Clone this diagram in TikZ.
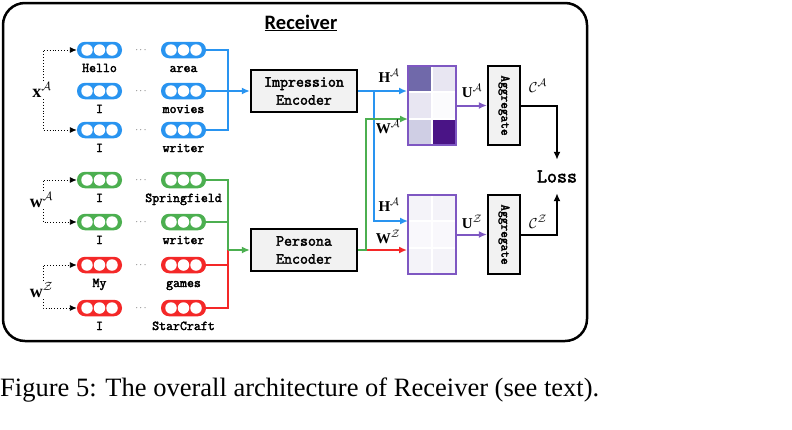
\documentclass[tikz,border=0pt]{standalone}
\usepackage{fontspec}
\setmainfont{Liberation Serif}
\newfontfamily\carl{Carlito}
\newfontfamily\monob{Latin Modern Mono}[FakeBold=2.5]
\usetikzlibrary{arrows.meta}
\definecolor{cblue}{RGB}{41,148,240}
\definecolor{cgreen}{RGB}{76,175,80}
\definecolor{cred}{RGB}{244,40,40}
\definecolor{boxgray}{RGB}{242,242,242}
\definecolor{mpurple}{RGB}{126,87,194}
\definecolor{mA}{RGB}{112,105,170}
\definecolor{mB}{RGB}{232,230,242}
\definecolor{mC}{RGB}{251,251,253}
\definecolor{mD}{RGB}{207,206,228}
\definecolor{mE}{RGB}{74,20,134}
\definecolor{mF}{RGB}{244,243,249}
\definecolor{mG}{RGB}{249,248,252}
\newcommand\mkcaps[4]{%
  \node[capsule, fill=#4] (#1) at (#2,#3) {};
  \node[hole] (#1a) at ([xshift=-12.5]#1.center) {};
  \node[hole] (#1b) at (#1.center) {};
  \node[hole] (#1c) at ([xshift=12.5]#1.center) {};
}
\tikzset{
  frame/.style={draw, line width=2.5, rounded corners=22},
  capsule/.style={rounded corners=8, minimum width=45, minimum height=16.5, inner sep=0},
  hole/.style={circle, fill=white, minimum size=11.5, inner sep=0},
  word/.style={font=\monob\fontsize{13.5}{15}\selectfont, inner sep=0, anchor=base},
  dotsl/.style={font=\fontsize{9}{10}\selectfont, inner sep=0},
  enc/.style={draw, line width=2.2, fill=boxgray, minimum width=106, minimum height=42, align=center, inner sep=0, font=\monob\fontsize{15.5}{18}\selectfont},
  agg/.style={draw, line width=2.2, fill=boxgray, minimum width=32, minimum height=79, inner sep=0},
  aggt/.style={rotate=-90, font=\monob\fontsize{13}{14}\selectfont, inner sep=0},
  mat/.style={draw=mpurple, line width=2, minimum width=48, minimum height=79, inner sep=0},
  conn/.style={line width=2},
  arr/.style={conn, -{Latex[length=8,width=7]}},
  brk/.style={dotted, line width=0.9, -{Latex[length=7,width=6]}},
  lab/.style={font=\fontsize{15}{17}\selectfont, inner sep=0, anchor=base},
  side/.style={font=\fontsize{18}{20}\selectfont, inner sep=1.5},
}
\begin{document}
\begin{tikzpicture}[x=1pt,y=-1pt]
\useasboundingbox (0,0) rectangle (792,429);
% frame
\node[frame, minimum width=584, minimum height=338, inner sep=0] (F) at (295,172) {};
\node[font=\carl\bfseries\fontsize{20.5}{22}\selectfont, inner sep=0] (T) at (301,23) {\underline{Receiver}};
% blue rows
\mkcaps{b1L}{99.5}{50}{cblue}\mkcaps{b1R}{183.5}{50}{cblue}
\mkcaps{b2L}{99.5}{91}{cblue}\mkcaps{b2R}{183.5}{91}{cblue}
\mkcaps{b3L}{99.5}{130}{cblue}\mkcaps{b3R}{183.5}{130}{cblue}
% green rows
\mkcaps{g1L}{99.5}{180}{cgreen}\mkcaps{g1R}{183.5}{180}{cgreen}
\mkcaps{g2L}{99.5}{222}{cgreen}\mkcaps{g2R}{183.5}{222}{cgreen}
% red rows
\mkcaps{r1L}{99.5}{265}{cred}\mkcaps{r1R}{183.5}{265}{cred}
\mkcaps{r2L}{99.5}{308}{cred}\mkcaps{r2R}{183.5}{308}{cred}
% dots
\foreach \n/\yy in {d1/50,d2/91,d3/130,d4/180,d5/222,d6/265,d7/308}
  \node[dotsl] (\n) at (141,\yy+0.5) {$\cdots$};
% words
\node[word] (wb1L) at (99.5,72) {Hello};
\node[word] (wb1R) at (183.5,72) {area};
\node[word] (wb2L) at (99.5,113) {I};
\node[word] (wb2R) at (183.5,113) {movies};
\node[word] (wb3L) at (99.5,152) {I};
\node[word] (wb3R) at (183.5,152) {writer};
\node[word] (wg1L) at (99.5,202) {I};
\node[word] (wg1R) at (183.5,202) {Springfield};
\node[word] (wg2L) at (99.5,244) {I};
\node[word] (wg2R) at (183.5,244) {writer};
\node[word] (wr1L) at (99.5,287) {My};
\node[word] (wr1R) at (183.5,287) {games};
\node[word] (wr2L) at (99.5,330) {I};
\node[word] (wr2R) at (183.5,330) {StarCraft};
% side labels and brackets
\node[side] (xA) at (42,90) {$\mathbf{x}^{\mathcal{A}}$};
\node[side] (wA) at (41.5,200) {$\mathbf{w}^{\mathcal{A}}$};
\node[side] (wZ) at (41.5,290) {$\mathbf{w}^{\mathcal{Z}}$};
\draw[brk] ([xshift=1]xA.north) |- (b1L.west);
\draw[brk] ([xshift=1]xA.south) |- (b3L.west);
\draw[brk] ([xshift=1.5]wA.north) |- (g1L.west);
\draw[brk] ([xshift=1.5]wA.south) |- (g2L.west);
\draw[brk] ([xshift=1.5]wZ.north) |- (r1L.west);
\draw[brk] ([xshift=1.5]wZ.south) |- (r2L.west);
% encoders
\node[enc] (IE) at (304,91) {Impression\\Encoder};
\node[enc] (PE) at (304,250) {Persona\\Encoder};
% blue connectors
\coordinate (jB) at (228,91);
\draw[conn, cblue] (b1R.east) -| (jB);
\draw[conn, cblue] (b3R.east) -| (jB);
\draw[arr, cblue] (b2R.east) -- (IE.west);
% red & green connectors
\coordinate (jG) at (228,250);
\draw[conn, cred] (r1R.east) -| (jG);
\draw[conn, cred] (r2R.east) -| (jG);
\draw[conn, cgreen] (g1R.east) -| (jG);
\draw[conn, cgreen] (g2R.east) -| (jG);
\draw[arr, cgreen] (jG) -- (PE.west);
% matrices
\node[mat] (M1) at (432,105.5) {};
\node[mat] (M2) at (432,234.5) {};
\fill[mA] (408,66) rectangle (432,92.3);
\fill[mB] (432,66) rectangle (456,92.3);
\fill[mB] (408,92.3) rectangle (432,118.7);
\fill[mC] (432,92.3) rectangle (456,118.7);
\fill[mD] (408,118.7) rectangle (432,145);
\fill[mE] (432,118.7) rectangle (456,145);
\draw[white, line width=2] (432,66) -- (432,145) (408,92.3) -- (456,92.3) (408,118.7) -- (456,118.7);
\fill[mF] (408,195) rectangle (432,221.3);
\fill[mF] (432,195) rectangle (456,221.3);
\fill[mG] (408,221.3) rectangle (432,247.7);
\fill[mG] (432,221.3) rectangle (456,247.7);
\fill[mF] (408,247.7) rectangle (432,274);
\fill[mF] (432,247.7) rectangle (456,274);
\draw[white, line width=2] (432,195) -- (432,274) (408,221.3) -- (456,221.3) (408,247.7) -- (456,247.7);
\node[mat] (M1b) at (M1.center) {};
\node[mat] (M2b) at (M2.center) {};
% matrix inputs
\coordinate (bj) at (374,91);
\coordinate (m2h) at (408,221);
\coordinate (gj) at (366,250);
\coordinate (m1w) at (408,119);
\draw[arr, cblue] (IE.east) -- (IE.east -| M1.west);
\draw[conn, cred] (PE.east) -- (gj);
\draw[arr, cred] (gj) -- (PE.east -| M2.west);
\draw[arr, cblue] (bj) |- (m2h);
\draw[arr, cgreen] (PE.east) -- (gj) |- (m1w);
\node[lab] (lH1) at (389,82) {$\mathbf{H}^{\mathcal{A}}$};
\node[lab] (lW1) at (388,133) {$\mathbf{W}^{\mathcal{A}}$};
\node[lab] (lH2) at (389,211) {$\mathbf{H}^{\mathcal{A}}$};
\node[lab] (lW2) at (388,243) {$\mathbf{W}^{\mathcal{Z}}$};
% aggregate
\node[agg] (AG1) at (504,105.5) {};
\node[agg] (AG2) at (504,234.5) {};
\node[aggt] (AG1t) at (AG1.center) {Aggregate};
\node[aggt] (AG2t) at (AG2.center) {Aggregate};
\draw[arr, mpurple] (M1.east |- AG1.west) -- (AG1.west);
\draw[arr, mpurple] (M2.east |- AG2.west) -- (AG2.west);
\node[lab] (lU1) at (472,97) {$\mathbf{U}^{\mathcal{A}}$};
\node[lab] (lU2) at (472,228) {$\mathbf{U}^{\mathcal{Z}}$};
% loss
\node[font=\monob\fontsize{19.5}{21}\selectfont, minimum height=33, inner sep=0] (Loss) at (557,176.5) {Loss};
\draw[arr, black] (AG1.east) -| (Loss.north);
\draw[arr, black] (AG2.east) -| (Loss.south);
\node[lab] (lC1) at (538,92) {$\mathcal{C}^{\mathcal{A}}$};
\node[lab] (lC2) at (538,228) {$\mathcal{C}^{\mathcal{Z}}$};
% caption
\node[anchor=base west, font=\fontsize{26.5}{29}\selectfont, inner sep=0] (cap) at (0,396) {Figure 5: The overall architecture of Receiver (see text).};
\end{tikzpicture}
\end{document}
